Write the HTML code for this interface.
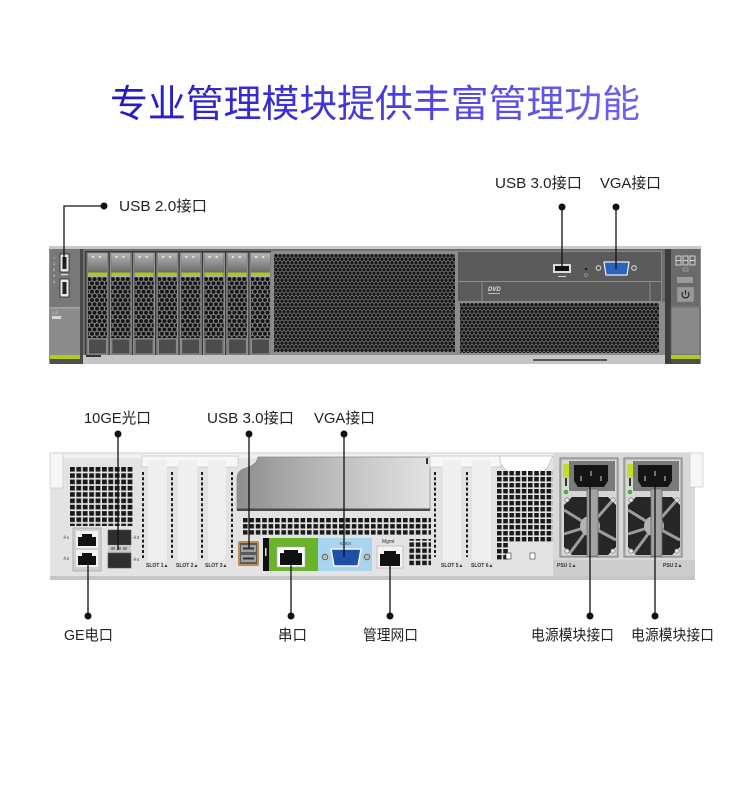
<!DOCTYPE html>
<html><head><meta charset="utf-8"><style>
html,body{margin:0;padding:0;background:#fff;}
svg{display:block}
text{font-family:"Liberation Sans","Noto Sans CJK SC",sans-serif;}
</style></head><body>
<svg width="750" height="800" viewBox="0 0 750 800" xmlns="http://www.w3.org/2000/svg">
<defs>
<linearGradient id="tg" x1="0" x2="1" y1="0" y2="0"><stop offset="0" stop-color="#2418c4"/><stop offset="1" stop-color="#6e62f0"/></linearGradient>
<linearGradient id="hg" x1="0" x2="0" y1="0" y2="1"><stop offset="0" stop-color="#b4b4b4"/><stop offset="1" stop-color="#6a6a6a"/></linearGradient>
<linearGradient id="pg" x1="0" x2="1" y1="0" y2="0"><stop offset="0" stop-color="#8e8e8e"/><stop offset="0.5" stop-color="#bdbdbd"/><stop offset="1" stop-color="#e2e2e2"/></linearGradient>
<pattern id="bigmesh" x="274" y="254" width="4" height="7" patternUnits="userSpaceOnUse">
 <rect width="4" height="7" fill="#858585"/>
 <circle cx="2" cy="1.75" r="1.7" fill="#141414"/>
 <circle cx="0" cy="5.25" r="1.7" fill="#141414"/>
 <circle cx="4" cy="5.25" r="1.7" fill="#141414"/>
</pattern>
<pattern id="baymesh" x="0" y="277" width="5" height="8.4" patternUnits="userSpaceOnUse">
 <rect width="5" height="8.4" fill="#858585"/>
 <circle cx="2.5" cy="2.1" r="2.0" fill="#141414"/>
 <circle cx="0" cy="6.3" r="2.0" fill="#141414"/>
 <circle cx="5" cy="6.3" r="2.0" fill="#141414"/>
</pattern>
<pattern id="sqA" x="70" y="467" width="6.4" height="6.3" patternUnits="userSpaceOnUse">
 <rect x="0" y="0" width="4.8" height="4.6" fill="#1a1a1a"/>
</pattern>
<pattern id="sqB" x="243" y="518" width="6.4" height="6.1" patternUnits="userSpaceOnUse">
 <rect x="0" y="0" width="4.6" height="4.4" fill="#1a1a1a"/>
</pattern>
<pattern id="sqC" x="497" y="471" width="6.2" height="6" patternUnits="userSpaceOnUse">
 <rect x="0" y="0" width="4.6" height="4.4" fill="#1a1a1a"/>
</pattern>
<g id="bay">
 <rect x="0" y="253" width="21" height="103" fill="#6e6e6e" stroke="#a0a0a0" stroke-width="0.8"/>
 <rect x="1" y="253.5" width="19" height="19" fill="url(#hg)"/>
 <rect x="5" y="256" width="2.2" height="2" fill="#e0e0e0"/>
 <rect x="12" y="256" width="2.2" height="2" fill="#e0e0e0"/>
 <rect x="1" y="272.5" width="19" height="3" fill="#a9c81f"/>
 <rect x="1" y="275.5" width="19" height="1.5" fill="#b0b0b0"/>
 <rect x="1" y="277" width="19" height="61" fill="url(#baymesh)"/>
 <rect x="1.5" y="339" width="18" height="15" fill="#4c4c4c" stroke="#8e8e8e" stroke-width="1"/>
</g>
<g id="psu">
 <rect x="0" y="458" width="58" height="99" fill="#bdbdbd" stroke="#7d7d7d"/>
 <rect x="2" y="460" width="54" height="95" fill="#d6d6d6"/>
 <rect x="9" y="461" width="46" height="30" fill="#7a7a7a"/>
 <path d="M14 465 H48 V481 L44 487 H18 L14 481 Z" fill="#151515"/>
 <rect x="20" y="476" width="2" height="5" fill="#777"/>
 <rect x="30" y="471" width="2" height="5" fill="#777"/>
 <rect x="40" y="476" width="2" height="5" fill="#777"/>
 <rect x="3" y="464" width="6" height="14" fill="#c5dc2f"/>
 <rect x="5" y="478" width="2" height="8" fill="#333"/>
 <circle cx="6" cy="492" r="3" fill="#4caf3c" stroke="#e8e8e8" stroke-width="1"/>
 <polygon points="12,497 48,497 56,505 56,547 48,555 12,555 4,547 4,505" fill="#262626"/>
 <g stroke="#9c9c9c" stroke-width="3">
  <line x1="30" y1="526" x2="4" y2="510"/>
  <line x1="30" y1="526" x2="52" y2="501"/>
  <line x1="30" y1="526" x2="56" y2="540"/>
  <line x1="30" y1="526" x2="10" y2="553"/>
  <line x1="30" y1="526" x2="4" y2="534"/>
 </g>
 <circle cx="30" cy="526" r="10" fill="#b3b3b3"/>
 <rect x="27" y="489" width="11" height="67" fill="#a2a2a2" stroke="#6a6a6a" stroke-width="0.8"/>
 <g fill="#e6e6e6" stroke="#666" stroke-width="0.6">
  <circle cx="7" cy="500" r="2.2"/><circle cx="53" cy="500" r="2.2"/>
  <circle cx="7" cy="551" r="2.2"/><circle cx="53" cy="551" r="2.2"/>
 </g>
</g>
<polygon id="rj" points="0,3 4,3 4,0 14,0 14,3 18,3 18,12 0,12" fill="#111"/>
</defs>

<rect width="750" height="800" fill="#fff"/>

<!-- TITLE -->
<text x="110" y="117" font-size="38" textLength="530" lengthAdjust="spacing" fill="url(#tg)" font-family="'Noto Sans CJK SC',sans-serif">专业管理模块提供丰富管理功能</text>

<!-- ================= FRONT ================= -->
<rect x="49" y="246" width="652" height="118" fill="#8f8f8f"/>
<rect x="49" y="246" width="652" height="3" fill="#c9c9c9"/>
<!-- left ear -->
<rect x="50" y="249" width="30" height="58" fill="#787878"/>
<rect x="50" y="307" width="30" height="1.5" fill="#a4a4a4"/>
<rect x="50" y="308.5" width="30" height="46.5" fill="#8c8c8c"/>
<rect x="50" y="355" width="30" height="4" fill="#b3cb1b"/>
<rect x="50" y="359" width="30" height="5" fill="#4e4e4e"/>
<rect x="80" y="249" width="3" height="115" fill="#4a4a4a"/>
<rect x="60" y="254" width="9" height="18" fill="#e8e8e8" stroke="#222" stroke-width="0.8"/>
<rect x="62.5" y="257" width="4" height="12" fill="#222"/>
<rect x="60" y="279" width="9" height="18" fill="#e8e8e8" stroke="#222" stroke-width="0.8"/>
<rect x="62.5" y="282" width="4" height="12" fill="#222"/>
<g fill="#e8e8e8" font-size="4">
<text x="53" y="259">⌂</text><text x="53" y="265">1</text><text x="53" y="271">2</text><text x="53" y="277">3</text><text x="53" y="283">4</text>
<text x="52" y="314">1 2</text>
</g>
<rect x="61" y="274" width="7" height="1.2" fill="#ddd"/>
<rect x="52" y="316" width="9" height="3" fill="#d8d8d8"/>

<!-- body -->
<rect x="83" y="249" width="582" height="108" fill="#6d6d6d"/>
<rect x="85" y="251" width="187" height="105" fill="#3a3a3a"/>
<use href="#bay" x="87"/>
<use href="#bay" x="110.3"/>
<use href="#bay" x="133.6"/>
<use href="#bay" x="156.9"/>
<use href="#bay" x="180.2"/>
<use href="#bay" x="203.5"/>
<use href="#bay" x="226.8"/>
<use href="#bay" x="250"/>
<rect x="271" y="251" width="186" height="104" fill="#8c8c8c"/>
<rect x="274" y="254" width="181" height="98" fill="url(#bigmesh)"/>
<rect x="457.5" y="251.5" width="204" height="50" fill="#5b5b5b" stroke="#8a8a8a" stroke-width="1"/>
<line x1="457" y1="281.5" x2="662" y2="281.5" stroke="#8d8d8d"/>
<line x1="482" y1="282" x2="482" y2="301" stroke="#8d8d8d"/>
<line x1="650" y1="282" x2="650" y2="301" stroke="#8d8d8d"/>
<text x="488" y="291" font-size="6" font-style="italic" font-weight="bold" fill="#e0e0e0">DVD</text>
<rect x="488" y="293" width="12" height="1" fill="#bbb"/>
<!-- USB front -->
<rect x="553" y="264" width="18" height="9" fill="#dcdcdc"/>
<rect x="555" y="266" width="14" height="5" fill="#111"/>
<rect x="558" y="276" width="8" height="1" fill="#ccc"/>
<circle cx="586" cy="269" r="1.3" fill="#222"/>
<circle cx="586" cy="275" r="1.5" fill="none" stroke="#aaa" stroke-width="0.6"/>
<!-- VGA front -->
<circle cx="598.5" cy="268" r="2.3" fill="#555" stroke="#e0e0e0" stroke-width="1"/>
<circle cx="634" cy="268" r="2.3" fill="#555" stroke="#e0e0e0" stroke-width="1"/>
<path d="M604 262 H629 L627 275 H606 Z" fill="#2a62c0" stroke="#eeeeee" stroke-width="1.2"/>
<rect x="457" y="302" width="208" height="53" fill="#8c8c8c"/>
<rect x="460" y="303" width="199" height="50" fill="url(#bigmesh)"/>
<!-- bottom strip -->
<rect x="83" y="355" width="582" height="9" fill="#c5c5c5"/>
<rect x="86" y="355" width="15" height="2" fill="#333"/>
<rect x="533" y="359" width="74" height="2" fill="#555"/>
<!-- right ear -->
<rect x="665" y="249" width="6" height="115" fill="#3e3e3e"/>
<rect x="671" y="249" width="29" height="57" fill="#6a6a6a"/>
<rect x="671" y="307" width="29" height="48" fill="#8a8a8a" stroke="#5a5a5a" stroke-width="0.8"/>
<rect x="671" y="355" width="29" height="4" fill="#b3cb1b"/>
<rect x="671" y="359" width="29" height="5" fill="#4e4e4e"/>
<g fill="none" stroke="#dcdcdc" stroke-width="0.9">
<rect x="676" y="256" width="5" height="9"/><rect x="683" y="256" width="5" height="9"/><rect x="690" y="256" width="5" height="9"/>
<line x1="676" y1="260.5" x2="681" y2="260.5"/><line x1="683" y1="260.5" x2="688" y2="260.5"/><line x1="690" y1="260.5" x2="695" y2="260.5"/>
</g>
<rect x="683" y="268" width="5" height="3" fill="none" stroke="#bbb" stroke-width="0.6"/>
<rect x="677" y="277" width="16" height="6" fill="#9b9b9b"/>
<rect x="677" y="287" width="17" height="15" fill="#9a9a9a" stroke="#777" stroke-width="0.6"/>
<path d="M683 292 A3.5 3.5 0 1 0 688 292" fill="none" stroke="#222" stroke-width="1.1"/>
<line x1="685.5" y1="290" x2="685.5" y2="294.5" stroke="#222" stroke-width="1.1"/>

<!-- ================= REAR ================= -->
<rect x="50" y="453" width="645" height="127" fill="#e3e3e3"/>
<rect x="50" y="453" width="645" height="5" fill="#f1f1f1"/>
<line x1="50" y1="453" x2="695" y2="453" stroke="#cfcfcf" stroke-width="1"/>
<rect x="50" y="453" width="13" height="35" fill="#f6f6f6" stroke="#cfcfcf" stroke-width="0.8"/>
<!-- PSU region -->
<rect x="553" y="453" width="142" height="127" fill="#d8d8d8"/>
<rect x="553" y="560" width="142" height="20" fill="#cdcdcd"/>
<rect x="50" y="576" width="645" height="4" fill="#c6c6c6"/>
<rect x="690" y="453" width="13" height="34" fill="#f6f6f6" stroke="#cfcfcf" stroke-width="0.8"/>
<!-- left vent -->
<rect x="70" y="467" width="64" height="59" fill="url(#sqA)"/>
<!-- GE -->
<rect x="73" y="528" width="28" height="43" fill="#d0d0d0" stroke="#a5a5a5" stroke-width="0.8"/>
<rect x="76" y="531" width="22" height="17" fill="#f2f2f2"/>
<rect x="76" y="550" width="22" height="17" fill="#f2f2f2"/>
<use href="#rj" x="78" y="534"/>
<use href="#rj" x="78" y="553"/>
<g font-size="4.5" fill="#444"><text x="63" y="539">≙1</text><text x="63" y="560">≙2</text><text x="133" y="539">≙3</text><text x="133" y="561">≙4</text></g>
<!-- SFP -->
<rect x="108" y="530" width="23" height="15" fill="#2e2e2e" stroke="#555" stroke-width="0.6"/>
<rect x="108" y="545" width="23" height="8" fill="#c7c7c7"/>
<rect x="111" y="547" width="4" height="3" fill="#888"/><rect x="117" y="547" width="4" height="3" fill="#888"/><rect x="123" y="547" width="4" height="3" fill="#888"/>
<rect x="108" y="553" width="23" height="15" fill="#2e2e2e" stroke="#555" stroke-width="0.6"/>
<!-- slots 1-3 -->
<rect x="142" y="456" width="96" height="11" fill="#f7f7f7" stroke="#cacaca" stroke-width="0.8"/>
<rect x="148" y="460" width="19" height="101" fill="#efefef"/>
<rect x="178" y="460" width="19" height="101" fill="#efefef"/>
<rect x="208" y="460" width="18" height="101" fill="#efefef"/>
<g stroke="#1e1e1e" stroke-width="2" stroke-dasharray="3 2.2">
<line x1="143" y1="472" x2="143" y2="558"/>
<line x1="172" y1="472" x2="172" y2="558"/>
<line x1="202" y1="472" x2="202" y2="558"/>
<line x1="232" y1="472" x2="232" y2="558"/>
<line x1="435" y1="472" x2="435" y2="557"/>
<line x1="467" y1="472" x2="467" y2="557"/>
</g>
<g font-size="5" fill="#333" font-weight="bold">
<text x="146" y="567">SLOT 1▲</text><text x="176" y="567">SLOT 2▲</text><text x="205" y="567">SLOT 3▲</text>
<text x="441" y="567">SLOT 5▲</text><text x="471" y="567">SLOT 6▲</text>
<text x="557" y="567">PSU 1▲</text><text x="663" y="567">PSU 2▲</text>
</g>
<!-- gradient panel -->
<path d="M237 510 L237 479 Q237 470 246 468 Q257 465 258 457 L430 457 L430 510 Z" fill="url(#pg)" stroke="#8a8a8a" stroke-width="0.8"/>
<rect x="237" y="508.5" width="193" height="2.5" fill="#4a4a4a"/>
<rect x="426" y="458" width="2" height="6" fill="#333"/>
<!-- mid vent -->
<rect x="243" y="518" width="188" height="18" fill="url(#sqB)"/>
<rect x="408" y="539" width="23" height="27" fill="url(#sqB)"/>
<!-- rear USB -->
<rect x="238" y="541" width="21" height="25" rx="2" fill="#b98a55"/>
<rect x="240" y="543" width="17" height="21" fill="#5a5a5a"/>
<rect x="241" y="545" width="15" height="7" fill="#a0a0a0"/><rect x="243" y="547.5" width="11" height="2" fill="#333"/>
<rect x="241" y="555" width="15" height="7" fill="#a0a0a0"/><rect x="243" y="557.5" width="11" height="2" fill="#333"/>
<!-- green serial -->
<rect x="263" y="538" width="55" height="33" fill="#6ab42c"/>
<rect x="263" y="538" width="6" height="33" fill="#111"/>
<rect x="265" y="548" width="1.5" height="8" fill="#ddd"/>
<rect x="277" y="547" width="28" height="20" fill="#fff" stroke="#aaa" stroke-width="0.6"/>
<polygon points="280,553 284,553 284,550 298,550 298,553 302,553 302,565 280,565" fill="#111"/>
<!-- blue VGA -->
<rect x="318" y="538" width="54" height="33" fill="#a8d4f0"/>
<text x="340" y="545" font-size="4.5" fill="#333">IOIOI</text>
<circle cx="325" cy="557" r="2.8" fill="#bbb" stroke="#555" stroke-width="0.8"/>
<circle cx="367" cy="557" r="2.8" fill="#bbb" stroke="#555" stroke-width="0.8"/>
<path d="M331 549 H361 L358 566 H334 Z" fill="#1f4fa8" stroke="#f5f5f5" stroke-width="1.5"/>
<!-- Mgmt -->
<text x="382" y="543" font-size="5" fill="#333">Mgmt</text>
<rect x="377" y="546" width="26" height="22" fill="#f3f3f3" stroke="#aaa" stroke-width="0.6"/>
<polygon points="380,554 384,554 384,551 396,551 396,554 400,554 400,566 380,566" fill="#111"/>
<!-- slots 5-6 -->
<rect x="430" y="456" width="71" height="11" fill="#f7f7f7" stroke="#cacaca" stroke-width="0.8"/>
<rect x="443" y="460" width="18" height="101" fill="#efefef"/>
<rect x="472" y="460" width="19" height="101" fill="#efefef"/>
<path d="M500 456 L500 462 Q506 476 526 477 Q546 476 550 462 L553 456 Z" fill="#fff" stroke="#bdbdbd" stroke-width="0.8"/>
<!-- right vent -->
<rect x="497" y="471" width="56" height="71" fill="url(#sqC)"/>
<rect x="497" y="542" width="12" height="18" fill="url(#sqC)"/>
<rect x="506" y="553" width="5" height="6" fill="#fff" stroke="#333" stroke-width="0.6"/>
<rect x="530" y="553" width="5" height="6" fill="#fff" stroke="#333" stroke-width="0.6"/>
<!-- PSUs -->
<use href="#psu" x="560"/>
<use href="#psu" x="624"/>

<!-- ================= CONNECTORS ================= -->
<g stroke="#111" stroke-width="1.3" fill="none">
<path d="M104 206 H64 V263"/>
<path d="M562 207 V268"/>
<path d="M616 207 V269"/>
<path d="M118 434 V550"/>
<path d="M249 434 V548"/>
<path d="M344 434 V557"/>
<path d="M88 616 V558"/>
<path d="M291 616 V558"/>
<path d="M390 616 V556"/>
<path d="M590 616 V484"/>
<path d="M655 616 V484"/>
</g>
<g fill="#111">
<circle cx="104" cy="206" r="3.5"/>
<circle cx="562" cy="207" r="3.5"/>
<circle cx="616" cy="207" r="3.5"/>
<circle cx="118" cy="434" r="3.5"/>
<circle cx="249" cy="434" r="3.5"/>
<circle cx="344" cy="434" r="3.5"/>
<circle cx="88" cy="616" r="3.5"/>
<circle cx="291" cy="616" r="3.5"/>
<circle cx="390" cy="616" r="3.5"/>
<circle cx="590" cy="616" r="3.5"/>
<circle cx="655" cy="616" r="3.5"/>
</g>

<!-- LABELS -->
<g font-size="15" fill="#222">
<text x="119" y="211" textLength="88" lengthAdjust="spacingAndGlyphs">USB 2.0接口</text>
<text x="495" y="188" textLength="87" lengthAdjust="spacingAndGlyphs">USB 3.0接口</text>
<text x="600" y="188" textLength="61" lengthAdjust="spacingAndGlyphs">VGA接口</text>
<text x="84" y="423" textLength="67" lengthAdjust="spacingAndGlyphs">10GE光口</text>
<text x="207" y="423" textLength="87" lengthAdjust="spacingAndGlyphs">USB 3.0接口</text>
<text x="314" y="423" textLength="61" lengthAdjust="spacingAndGlyphs">VGA接口</text>
<text x="64" y="640" textLength="49" lengthAdjust="spacingAndGlyphs">GE电口</text>
<text x="278" y="640" textLength="29" lengthAdjust="spacingAndGlyphs">串口</text>
<text x="363" y="640" textLength="55" lengthAdjust="spacingAndGlyphs">管理网口</text>
<text x="531" y="640" textLength="83" lengthAdjust="spacingAndGlyphs">电源模块接口</text>
<text x="631" y="640" textLength="83" lengthAdjust="spacingAndGlyphs">电源模块接口</text>
</g>
</svg>
</body></html>
